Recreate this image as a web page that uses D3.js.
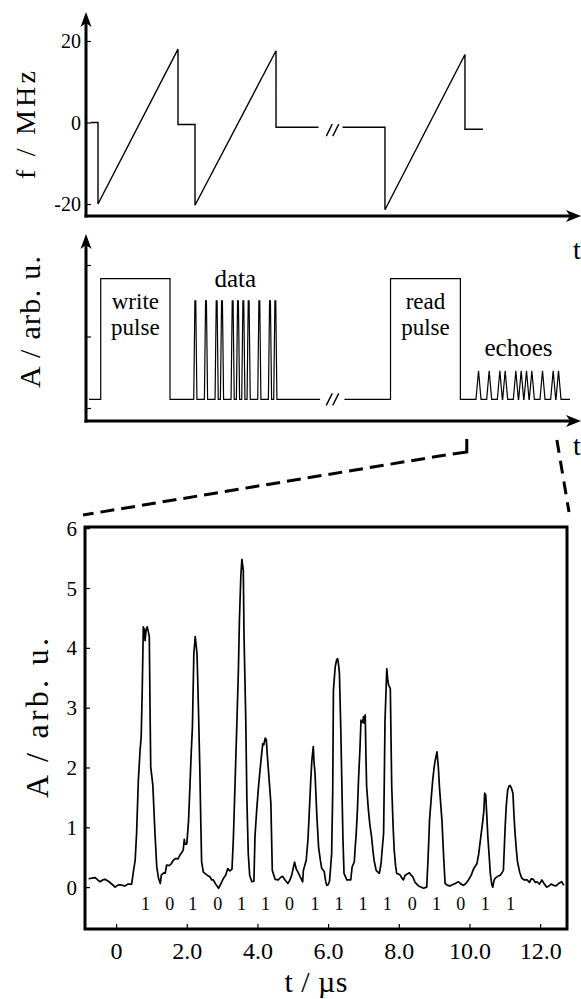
<!DOCTYPE html>
<html><head><meta charset="utf-8">
<script src="https://cdn.jsdelivr.net/npm/d3@7/dist/d3.min.js"></script>
<style>
body{margin:0;background:#fff}
svg{display:block}
svg text{font-family:"Liberation Serif","Tinos","Times New Roman","Times","DejaVu Serif","Noto Serif",serif !important;fill:#000}
</style>
</head><body>
<svg id="chart" width="581" height="999"></svg>
<script>
// ---------------- data ----------------
// top panel: chirp frequency (schematic time units, MHz); null = axis break
const chirpT = [0.9, 2.25, 2.25, 17.25, 17.25, 20.44, 20.44, 35.63, 35.63, 43.6, null, 48.1, 56.06, 56.06, 71.06, 71.06, 74.44];
const chirpF = [0, 0, -20, 18, -0.5, -0.5, -20.3, 17.6, -1.15, -1.15, null, -1.15, -1.15, -21.4, 16.7, -1.65, -1.65];
const freqTicks = [-20, 0, 20];

// middle panel: schematic pulse sequence
const bits = [1,0,1,0,1,1,0,1,1,1,1,0,1,0,1,1];
const ampTicks = [0, 1, 2];
const traceSpan = [0.56, 90.75];
const breakSpan = [43.9, 48.45];
const writePulse = [2.76, 15.75];
const readPulse = [57.1, 70.2];
const dataSlotStart = [20.5];
const echoSlotStart = [73.6];
const levelBase = [0.12];
const levelPulse = [1.81];
const levelData = [1.5];
const levelEcho = [0.52];
const zoomWindow = [71.4, 88.3];

// bottom panel: measured echo signal
const curveT = [-0.78,-0.68,-0.59,-0.52,-0.45,-0.38,-0.31,-0.2,-0.1,-0.03,0.04,0.1,0.18,0.25,0.33,0.44,0.5,0.54,0.58,0.63,0.68,0.71,0.74,0.77,0.8,0.82,0.85,0.88,0.92,0.94,0.96,0.98,1.04,1.1,1.15,1.2,1.25,1.28,1.31,1.36,1.39,1.43,1.5,1.56,1.62,1.69,1.75,1.81,1.86,1.9,1.93,1.95,2.0,2.05,2.09,2.13,2.16,2.2,2.24,2.29,2.33,2.37,2.4,2.42,2.47,2.51,2.58,2.66,2.71,2.75,2.82,2.9,2.96,3.04,3.1,3.16,3.22,3.28,3.32,3.37,3.42,3.46,3.49,3.53,3.56,3.6,3.62,3.67,3.7,3.74,3.78,3.84,
3.9,3.93,3.98,4.03,4.1,4.15,4.18,4.22,4.25,4.28,4.33,4.38,4.42,4.5,4.59,4.65,4.71,4.78,4.86,4.92,4.97,5.05,5.1,5.14,5.21,5.28,5.3,5.38,5.43,5.47,5.51,5.54,5.58,5.6,5.63,5.68,5.73,5.78,5.82,5.89,5.93,5.96,6.0,6.04,6.1,6.13,6.15,6.2,6.24,6.27,6.3,6.32,6.36,6.39,6.42,6.45,6.53,6.6,6.64,6.68,6.74,6.77,6.79,6.83,6.86,6.9,6.93,6.96,6.98,7.0,7.02,7.05,7.07,7.09,7.14,7.18,7.23,7.27,7.3,7.36,7.41,7.45,7.5,7.52,7.57,7.59,7.61,7.64,7.66,7.69,7.71,7.76,7.78,7.8,7.84,7.87,7.91,7.94,7.99,8.04,8.1,8.13,8.18,8.24,8.3,8.35,8.4,8.46,8.56,
8.7,8.79,8.83,8.87,8.92,8.96,9.0,9.03,9.08,9.12,9.15,9.22,9.27,9.31,9.38,9.45,9.52,9.6,9.65,9.69,9.76,9.83,9.9,9.97,10.05,10.12,10.21,10.26,10.31,10.38,10.41,10.43,10.46,10.49,10.52,10.56,10.59,10.63,10.66,10.7,10.73,10.8,10.87,10.93,10.96,11.01,11.04,11.08,11.12,11.15,11.19,11.23,11.26,11.29,11.33,11.36,11.42,11.48,11.55,11.63,11.7,11.75,11.81,11.86,11.91,11.98,12.05,12.12,12.19,12.25,12.31,12.38,12.45,12.52,12.61,12.67];
const curveA = [0.14,0.15,0.16,0.12,0.09,0.12,0.13,0.09,0.04,0.0,0.03,0.04,0.03,0.02,0.05,0.05,0.3,0.45,0.9,1.79,2.3,2.51,3.3,4.35,4.3,4.12,4.3,4.35,4.25,4.18,3.0,2.01,1.7,0.9,0.34,0.15,0.06,0.2,0.22,0.24,0.23,0.37,0.36,0.39,0.45,0.48,0.47,0.54,0.58,0.62,0.8,0.72,0.72,1.1,1.7,2.3,2.68,3.9,4.19,3.9,3.0,1.96,1.0,0.42,0.25,0.23,0.2,0.17,0.12,0.12,0.05,-0.02,0.05,0.15,0.2,0.31,0.27,0.3,0.84,1.8,2.79,3.6,4.46,5.2,5.48,5.3,4.2,2.79,1.5,0.56,0.2,0.09,
0.1,0.84,1.3,1.68,2.12,2.4,2.38,2.49,2.47,2.2,1.8,1.4,0.28,0.13,0.12,0.16,0.18,0.12,0.06,0.12,0.2,0.42,0.3,0.26,0.17,0.09,0.28,0.45,0.8,1.29,1.8,2.12,2.35,2.1,1.9,1.2,0.67,0.45,0.31,0.26,0.1,0.03,0.04,0.1,0.56,1.6,3.29,3.68,3.8,3.82,3.7,3.57,2.6,1.68,0.8,0.23,0.12,0.12,0.12,0.34,0.42,0.7,0.84,1.3,1.79,2.3,2.79,2.75,2.76,2.85,2.74,2.88,2.2,1.68,1.29,1.05,0.84,0.6,0.45,0.28,0.25,0.23,0.4,0.56,0.9,1.8,2.79,3.3,3.65,3.45,3.38,3.32,2.5,1.68,1.0,0.62,0.35,0.23,0.22,0.2,0.14,0.12,0.2,0.22,0.24,0.2,0.17,0.08,0.02,
-0.02,0.0,0.5,1.12,1.5,1.79,2.0,2.12,2.26,2.0,1.68,1.12,0.5,0.06,0.03,0.02,0.04,0.06,0.08,0.09,0.05,0.03,0.06,0.12,0.2,0.31,0.39,0.55,0.79,1.12,1.3,1.57,1.54,1.2,0.84,0.5,0.23,0.05,0.0,0.12,0.15,0.18,0.2,0.25,0.28,1.01,1.35,1.62,1.69,1.7,1.65,1.57,1.2,0.9,0.6,0.42,0.25,0.15,0.12,0.12,0.08,0.14,0.13,0.08,0.09,0.05,0.12,0.05,0.0,0.02,0.05,0.03,0.02,0.06,0.09,0.03];
const timeTicks = [0, 2, 4, 6, 8, 10, 12];
const ampTicksBottom = [0, 1, 2, 3, 4, 5, 6];
const bitTimes = [0.83,1.52,2.17,2.88,3.55,4.23,4.91,5.63,6.31,6.99,7.67,8.38,9.07,9.75,10.45,11.16];

// ---------------- drawing ----------------
const FONT = '"Liberation Serif","Tinos","Times New Roman","Times","DejaVu Serif","Noto Serif",serif';
const svg = d3.select("#chart");
const AX = 86;            // schematic y-axis x
const xS = d3.scaleLinear().domain([0, 92.63]).range([AX, 580]);

function arrowUp(x, y){ return `M${x},${y}L${x-5.5},${y+15}L${x},${y+11}L${x+5.5},${y+15}Z`; }
function arrowRight(x, y){ return `M${x},${y}L${x-15},${y-6}L${x-11},${y}L${x-15},${y+6}Z`; }
function breakMark(g, x, y){
  [0, 6.5].forEach(o => g.append("line").attr("x1", x+o-3).attr("y1", y+6).attr("x2", x+o+3).attr("y2", y-6)
    .attr("stroke","#000").attr("stroke-width",1.4));
}
function styleAxis(g, size){
  g.attr("font-family", FONT);
  g.select(".domain").remove();
  g.selectAll("line").attr("stroke","#000").attr("stroke-width",1.2);
  g.selectAll("text").attr("font-size",size).attr("font-family",FONT).attr("fill","#000");
}

// ----- top panel -----
const yTop = d3.scaleLinear().domain([-20, 20]).range([204, 41]);
const topAxisY = 216;
const gTop = svg.append("g");
gTop.append("g").attr("transform",`translate(${AX},0)`)
  .call(d3.axisLeft(yTop).tickValues(freqTicks).tickSize(-5).tickPadding(5).tickFormat(d => String(d)))
  .call(g => { styleAxis(g, 20); g.selectAll("text").attr("dy","0.34em"); });
gTop.append("line").attr("x1",AX).attr("y1",topAxisY+1.5).attr("x2",AX).attr("y2",22).attr("stroke","#000").attr("stroke-width",3);
gTop.append("path").attr("d",arrowUp(AX,12));
gTop.append("line").attr("x1",AX-1.5).attr("y1",topAxisY).attr("x2",572).attr("y2",topAxisY).attr("stroke","#000").attr("stroke-width",3);
gTop.append("path").attr("d",arrowRight(581,topAxisY));
const chirpPts = chirpT.map((t,i) => [t, chirpF[i]]);
gTop.append("path").datum(chirpPts)
  .attr("d", d3.line().defined(d => d[0] !== null).x(d => xS(d[0])).y(d => yTop(d[1])))
  .attr("fill","none").attr("stroke","#000").attr("stroke-width",1.4);
breakMark(gTop, (xS(breakSpan[0])+xS(breakSpan[1]))/2 - 3, yTop(-1.15)+3);
gTop.append("text").attr("transform","translate(35,125) rotate(-90)").attr("text-anchor","middle")
  .attr("font-family",FONT).attr("font-size",28).attr("textLength",108).attr("lengthAdjust","spacing").text("f / MHz");
gTop.append("text").attr("x",573).attr("y",259).attr("font-family",FONT).attr("font-size",28).text("t");

// ----- middle panel -----
const yMid = d3.scaleLinear().domain([0, 2]).range([408, 265]);
const midAxisY = 421;
const gMid = svg.append("g");
gMid.append("g").attr("transform",`translate(${AX},0)`)
  .call(d3.axisLeft(yMid).tickValues(ampTicks).tickSize(-5).tickFormat(""))
  .call(g => styleAxis(g, 10));
gMid.append("line").attr("x1",AX).attr("y1",midAxisY+1.5).attr("x2",AX).attr("y2",244).attr("stroke","#000").attr("stroke-width",3);
gMid.append("path").attr("d",arrowUp(AX,234));
gMid.append("line").attr("x1",AX-1.5).attr("y1",midAxisY).attr("x2",572).attr("y2",midAxisY).attr("stroke","#000").attr("stroke-width",3);
gMid.append("path").attr("d",arrowRight(581,midAxisY));

const base = levelBase[0], pulse = levelPulse[0], dLev = levelData[0], eLev = levelEcho[0];
const seg1 = [[traceSpan[0],base],[writePulse[0],base],[writePulse[0],pulse],[writePulse[1],pulse],[writePulse[1],base]];
bits.forEach((b,i) => { if(b){ const c = dataSlotStart[0]+i;
  seg1.push([c-0.3,base],[c-0.08,dLev],[c+0.08,dLev],[c+0.3,base]); } });
seg1.push([breakSpan[0],base]);
const seg2 = [[breakSpan[1],base],[readPulse[0],base],[readPulse[0],pulse],[readPulse[1],pulse],[readPulse[1],base]];
bits.forEach((b,i) => { if(b){ const c = echoSlotStart[0]+i;
  seg2.push([c-0.47,base],[c,eLev],[c+0.47,base]); } });
seg2.push([traceSpan[1],base]);
const lineMid = d3.line().x(d => xS(d[0])).y(d => yMid(d[1]));
[seg1, seg2].forEach(s => gMid.append("path").attr("d",lineMid(s)).attr("fill","none").attr("stroke","#000").attr("stroke-width",1.2));
breakMark(gMid, (xS(breakSpan[0])+xS(breakSpan[1]))/2 - 3, yMid(base));

const wMid = xS((writePulse[0]+writePulse[1])/2), rMid = xS((readPulse[0]+readPulse[1])/2);
// two-line labels inside the pulses
[[["write","pulse"],wMid],[["read","pulse"],rMid]].forEach(([lines,x]) => {
  gMid.append("text").attr("x",x).attr("y",309).attr("text-anchor","middle")
    .attr("font-family",FONT).attr("font-size",23).text(lines[0]);
  gMid.append("text").attr("x",x).attr("y",335).attr("text-anchor","middle")
    .attr("font-family",FONT).attr("font-size",23).text(lines[1]);
});
[["data",xS(dataSlotStart[0]+(bits.length-1)/2),287],["echoes",xS(echoSlotStart[0]+(bits.length-1)/2),356]]
 .forEach(([s,x,y]) => gMid.append("text").attr("x",x).attr("y",y).attr("text-anchor","middle")
   .attr("font-family",FONT).attr("font-size",25).text(s));
gMid.append("text").attr("transform","translate(40,322) rotate(-90)").attr("text-anchor","middle")
  .attr("font-family",FONT).attr("font-size",30).attr("textLength",132).attr("lengthAdjust","spacing").text("A / arb. u.");
gMid.append("text").attr("x",573).attr("y",455).attr("font-family",FONT).attr("font-size",28).text("t");

// ----- bottom panel -----
const xB = d3.scaleLinear().domain([-0.88, 12.76]).range([85, 567]);
const yB = d3.scaleLinear().domain([-0.7, 6.02]).range([929, 527]);
const gBot = svg.append("g");

// zoom connector lines
const zx1 = xS(zoomWindow[0]), zx2 = xS(zoomWindow[1]);
gBot.append("path").attr("d",`M${zx1},${midAxisY+18}L${zx1},${midAxisY+31}L${zx1-14},${midAxisY+33}`)
  .attr("fill","none").attr("stroke","#000").attr("stroke-width",3);
gBot.append("line").attr("x1",zx1-21).attr("y1",midAxisY+34).attr("x2",xB.range()[0]-2).attr("y2",yB.range()[1]-12)
  .attr("stroke","#000").attr("stroke-width",3).attr("stroke-dasharray","14,7");
gBot.append("line").attr("x1",zx2).attr("y1",midAxisY+19).attr("x2",xB.range()[1]+2).attr("y2",yB.range()[1]-15)
  .attr("stroke","#000").attr("stroke-width",3).attr("stroke-dasharray","13,8");

gBot.append("rect").attr("x",85).attr("y",527).attr("width",482).attr("height",402)
  .attr("fill","none").attr("stroke","#000").attr("stroke-width",3);
gBot.append("g").attr("transform","translate(85,0)")
  .call(d3.axisLeft(yB).tickValues(ampTicksBottom).tickSize(-5).tickPadding(8).tickFormat(d => String(d)))
  .call(g => { styleAxis(g, 21); g.selectAll("text").attr("dy","0.34em"); });
gBot.append("g").attr("transform","translate(0,929)")
  .call(d3.axisBottom(xB).tickValues(timeTicks).tickSize(-5).tickPadding(13).tickFormat(d => d === 0 ? "0" : d.toFixed(1)))
  .call(g => styleAxis(g, 24));
const curvePts = curveT.map((t,i) => [t, curveA[i]]);
gBot.append("path").datum(curvePts).attr("d", d3.line().x(d => xB(d[0])).y(d => yB(d[1])))
  .attr("fill","none").attr("stroke","#000").attr("stroke-width",1.7).attr("stroke-linejoin","round");
gBot.selectAll("text.bit").data(bits).enter().append("text").attr("class","bit")
  .attr("x",(d,i) => xB(bitTimes[i])).attr("y",910).attr("text-anchor","middle")
  .attr("font-family",FONT).attr("font-size",18).text(d => d);
gBot.append("text").attr("x",316).attr("y",992).attr("text-anchor","middle").attr("font-family",FONT).attr("font-size",30)
  .attr("textLength",63).attr("lengthAdjust","spacing").text("t / µs");
gBot.append("text").attr("transform","translate(48,718) rotate(-90)").attr("text-anchor","middle")
  .attr("font-family",FONT).attr("font-size",32).attr("textLength",160).attr("lengthAdjust","spacing").text("A / arb. u.");
</script>
</body></html>
